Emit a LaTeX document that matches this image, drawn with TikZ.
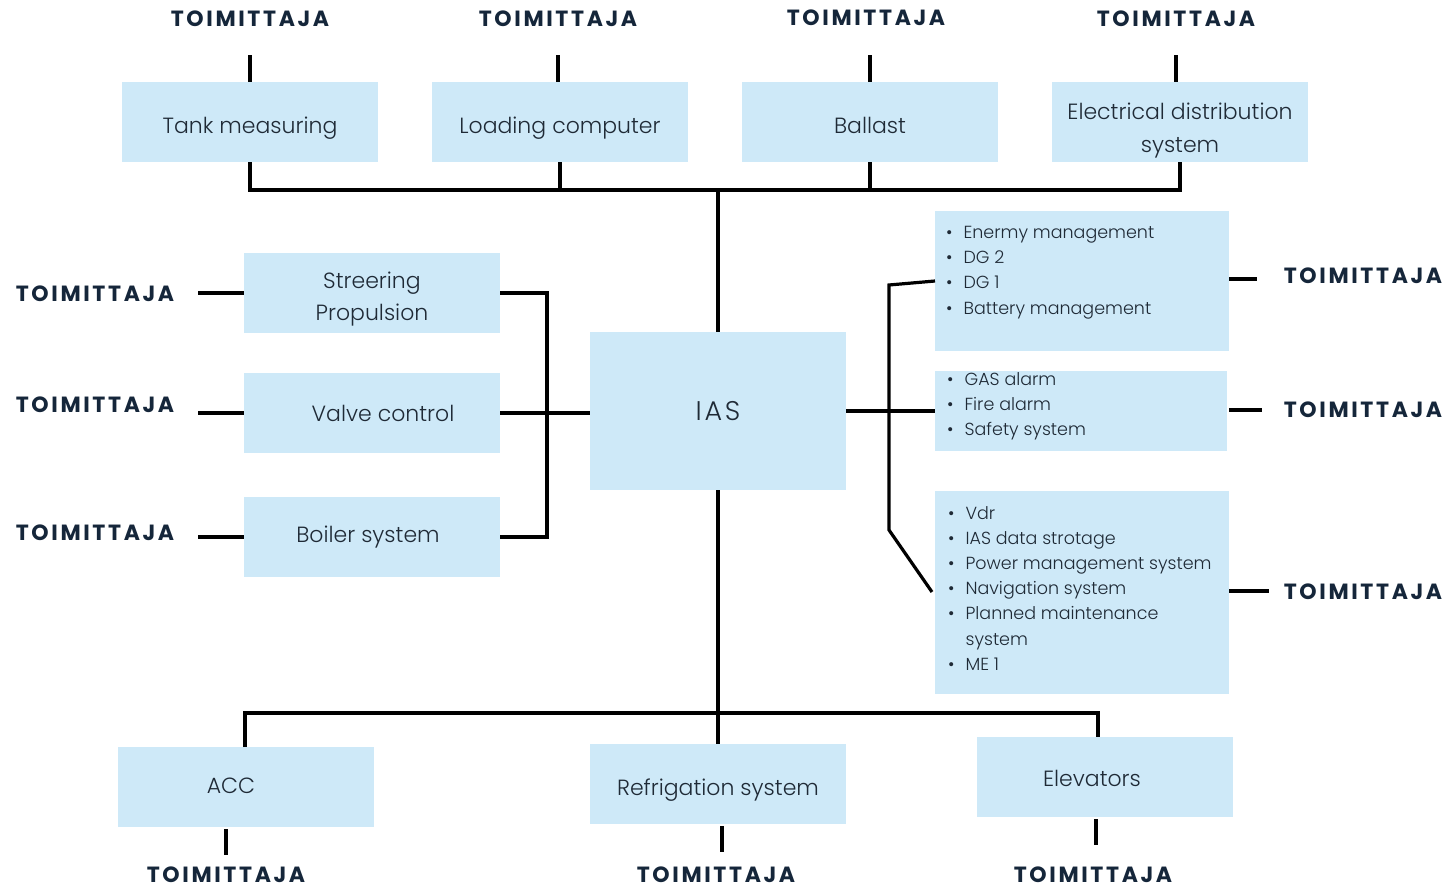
\documentclass[tikz,border=0pt]{standalone}
\usepackage{fontspec}
\setmainfont{Poppins}[UprightFont=* Light, BoldFont=* Bold]
\usetikzlibrary{calc}
\definecolor{boxblue}{HTML}{CEE9F8}
\definecolor{ink}{HTML}{1F2A36}
\definecolor{navy}{HTML}{15263A}
\tikzset{
  sbox/.style={rectangle, fill=boxblue, minimum width=256pt, minimum height=80pt, inner sep=0pt,
    text=ink, font=\fontsize{22}{32}\selectfont, align=center},
  supp/.style={text=navy, inner sep=0pt,
    font=\fontsize{22}{22}\selectfont\bfseries\addfontfeature{LetterSpace=12}},
  conn/.style={line width=3.2pt, black},
  blist/.style={text=ink, font=\fontsize{17.5}{25.2}\selectfont, align=left, anchor=north west, inner sep=0pt}
}
\newcommand{\bul}{\textbullet\hspace{11pt}}
\newcommand{\bulsp}{\hphantom{\textbullet\hspace{11pt}}}
\newcommand{\dn}[1]{\rule{0pt}{#1pt}}
\begin{document}
\begin{tikzpicture}[x=1pt,y=-1pt]
\useasboundingbox[fill=white] (0,0) rectangle (1450,889);

% top row
\node[sbox] (tm)  at (250,122) {\dn{28}Tank measuring};
\node[sbox] (lc)  at (560,122) {\dn{28}Loading computer};
\node[sbox] (bal) at (870,122) {\dn{24}Ballast};
\node[sbox, font=\fontsize{22}{33}\selectfont] (eds) at (1180,122) {\dn{34}Electrical distribution\\system};
\node[supp] (s1) at (250,19) {TOIMITTAJA};
\node[supp] (s2) at (558,19) {TOIMITTAJA};
\node[supp] (s3) at (866,18) {TOIMITTAJA};
\node[supp] (s4) at (1176,19) {TOIMITTAJA};

% centre
\node[sbox, minimum height=158pt, font=\fontsize{27}{32}\selectfont\addfontfeature{LetterSpace=10}] (ias) at (718,411) {IAS};

% left column
\node[sbox] (sp) at (372,293) {\dn{28}Streering\\Propulsion};
\node[sbox] (vc) at (372,413) {\hspace*{22pt}Valve control};
\node[sbox] (bs) at (372,537) {\hspace*{-8pt}Boiler system};
\node[supp] (s5) at (95,294) {TOIMITTAJA};
\node[supp] (s6) at (95,405) {TOIMITTAJA};
\node[supp] (s7) at (95,533) {TOIMITTAJA};

% right column
\node[sbox, minimum width=294pt, minimum height=140pt] (r1) at (1082,281) {};
\node[sbox, minimum width=292pt, minimum height=80pt]  (r2) at (1081,411) {};
\node[sbox, minimum width=294pt, minimum height=203pt] (r3) at (1082,592.5) {};
\node[blist] (l1) at (946,226) {\bul Enermy management\\\bul DG 2\\\bul DG 1\\\bul Battery management};
\node[blist] (l2) at (947,372) {\bul GAS alarm\\\bul Fire alarm\\\bul Safety system};
\node[blist] (l3) at (948,506) {\bul Vdr\\\bul IAS data strotage\\\bul Power management system\\\bul Navigation system\\\bul Planned maintenance\\\bulsp system\\\bul ME 1};
\node[supp] (s8)  at (1363,276) {TOIMITTAJA};
\node[supp] (s9)  at (1363,410) {TOIMITTAJA};
\node[supp] (s10) at (1363,592) {TOIMITTAJA};

% bottom row
\node[sbox] (acc) at (246,787) {\hspace*{-30pt}\raisebox{3pt}{ACC}};
\node[sbox] (ref) at (718,784) {\dn{28}Refrigation system};
\node[sbox] (el)  at (1105,777) {\dn{20}\hspace*{-26pt}Elevators};
\node[supp] (s11) at (226,875) {TOIMITTAJA};
\node[supp] (s12) at (716,875) {TOIMITTAJA};
\node[supp] (s13) at (1093,875) {TOIMITTAJA};

% junction coordinates
\coordinate (busT) at (718,190);
\coordinate (busL) at (547,412);
\coordinate (busB) at (718,713);
\coordinate (rin1) at (935,281);
\coordinate (rj1) at (889,285);
\coordinate (rj2) at (889,530);
\coordinate (rin3) at (932,592);
\coordinate (elT) at (1098,737);
\coordinate (accT) at (245,747);

% top connectors
\draw[conn] (tm.north) -- ++(0,-27);
\draw[conn] ($(lc.north)+(-2,0)$) -- ++(0,-27);
\draw[conn] (bal.north) -- ++(0,-27);
\draw[conn] ($(eds.north)+(-4,0)$) -- ++(0,-27);
\draw[conn] (tm.south) -- (tm.south |- busT) -- (eds.south |- busT) -- (eds.south);
\draw[conn] (lc.south) -- (lc.south |- busT);
\draw[conn] (bal.south) -- (bal.south |- busT);
\draw[conn] (busT) -- (ias.north);

% left connectors
\draw[conn] (sp.west) -- ++(-46,0);
\draw[conn] (vc.west) -- ++(-46,0);
\draw[conn] (bs.west) -- ++(-46,0);
\draw[conn] (sp.east) -- (sp.east -| busL) -- (bs.east -| busL) -- (bs.east);
\draw[conn] (vc.east) -- (vc.east -| ias.west);

% right connectors
\draw[conn] (ias.east) -- (ias.east -| r2.west);
\draw[conn] (rin1) -- (rj1) -- (rj2) -- (rin3);
\draw[conn] ($(r1.east)+(0,-2)$) -- ++(28,0);
\draw[conn] ($(r2.east)+(2,-1)$) -- ++(33,0);
\draw[conn] ($(r3.east)+(0,-1.5)$) -- ++(40,0);

% bottom connectors
\draw[conn] (ias.south) -- (ref.north);
\draw[conn] (accT) -- (accT |- busB) -- (elT |- busB) -- (elT);
\draw[conn] ($(acc.south)+(-20,2)$) -- ++(0,26);
\draw[conn] ($(ref.south)+(4,2)$) -- ++(0,26);
\draw[conn] ($(el.south)+(-9,2)$) -- ++(0,26);
\end{tikzpicture}
\end{document}
